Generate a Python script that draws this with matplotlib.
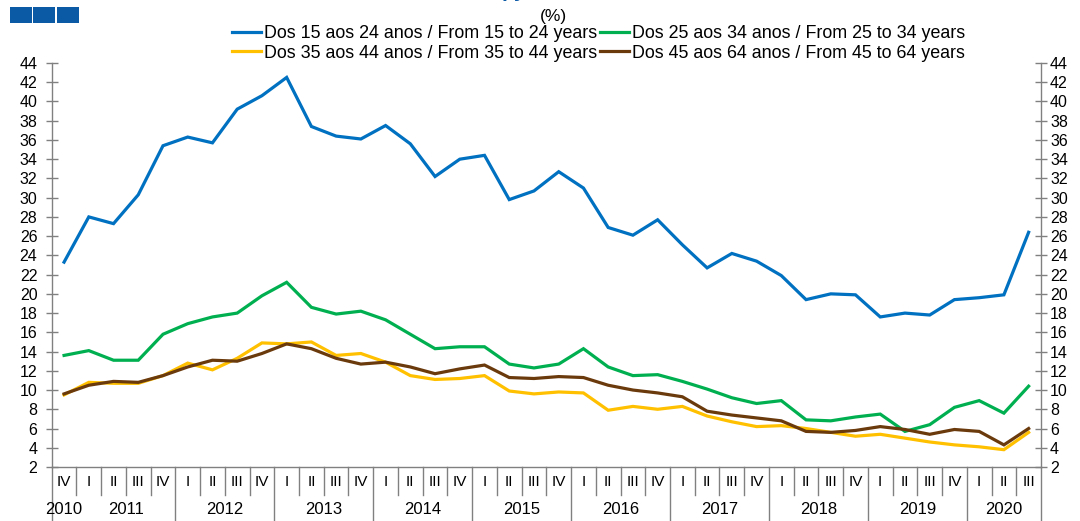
import matplotlib
matplotlib.use("Agg")
import matplotlib.pyplot as plt
from matplotlib.transforms import blended_transform_factory
from matplotlib.patches import Rectangle

plt.rcParams['font.family'] = ['Liberation Sans', 'DejaVu Sans']

# ---- data ----
quarters = ["IV"] + ["I", "II", "III", "IV"] * 9 + ["I", "II", "III"]
years = ["2010", "2011", "2012", "2013", "2014", "2015", "2016", "2017", "2018", "2019", "2020"]
year_counts = [1, 4, 4, 4, 4, 4, 4, 4, 4, 4, 3]

age_15_24 = [23.3, 28.0, 27.3, 30.3, 35.4, 36.3, 35.7, 39.2, 40.6, 42.5,
             37.4, 36.4, 36.1, 37.5, 35.6, 32.2, 34.0, 34.4, 29.8, 30.7,
             32.7, 31.0, 26.9, 26.1, 27.7, 25.1, 22.7, 24.2, 23.4, 21.9,
             19.4, 20.0, 19.9, 17.6, 18.0, 17.8, 19.4, 19.6, 19.9, 26.4]
age_25_34 = [13.6, 14.1, 13.1, 13.1, 15.8, 16.9, 17.6, 18.0, 19.8, 21.2,
             18.6, 17.9, 18.2, 17.3, 15.8, 14.3, 14.5, 14.5, 12.7, 12.3,
             12.7, 14.3, 12.4, 11.5, 11.6, 10.9, 10.1, 9.2, 8.6, 8.9,
             6.9, 6.8, 7.2, 7.5, 5.7, 6.4, 8.2, 8.9, 7.6, 10.4]
age_35_44 = [9.5, 10.8, 10.7, 10.7, 11.5, 12.8, 12.1, 13.3, 14.9, 14.8,
             15.0, 13.6, 13.8, 12.9, 11.5, 11.1, 11.2, 11.5, 9.9, 9.6,
             9.8, 9.7, 7.9, 8.3, 8.0, 8.3, 7.3, 6.7, 6.2, 6.3,
             6.0, 5.6, 5.2, 5.4, 5.0, 4.6, 4.3, 4.1, 3.8, 5.6]
age_45_64 = [9.6, 10.5, 10.9, 10.8, 11.5, 12.4, 13.1, 13.0, 13.8, 14.8,
             14.3, 13.3, 12.7, 12.9, 12.4, 11.7, 12.2, 12.6, 11.3, 11.2,
             11.4, 11.3, 10.5, 10.0, 9.7, 9.3, 7.8, 7.4, 7.1, 6.8,
             5.7, 5.6, 5.8, 6.2, 5.9, 5.4, 5.9, 5.7, 4.3, 6.0]

labels = ["Dos 15 aos 24 anos / From 15 to 24 years",
          "Dos 25 aos 34 anos / From 25 to 34 years",
          "Dos 35 aos 44 anos / From 35 to 44 years",
          "Dos 45 aos 64 anos / From 45 to 64 years"]
colors = ["#0070C0", "#00B050", "#FFC000", "#6B3A0C"]

# ---- figure ----
W, H = 1080, 521
fig = plt.figure(figsize=(W / 100, H / 100), dpi=100)
ax_l, ax_r, ax_t, ax_b = 51.7, 1041, 63, 467
ax = fig.add_axes([ax_l / W, 1 - ax_b / H, (ax_r - ax_l) / W, (ax_b - ax_t) / H])

x = list(range(len(quarters)))
series = [age_15_24, age_25_34, age_35_44, age_45_64]
handles = []
for s, c, lab in zip(series, colors, labels):
    h, = ax.plot(x, s, color=c, lw=2.3, label=lab, solid_joinstyle='miter')
    handles.append(h)

ax.set_xlim(-0.5, len(quarters) - 0.5)
ax.set_ylim(2, 44)
yt = list(range(2, 45, 2))
ax.set_yticks(yt)
ax.set_xticks([])
spine_c = "#808080"
for sp in ["left", "right", "bottom"]:
    ax.spines[sp].set_color(spine_c)
    ax.spines[sp].set_linewidth(1.0)
ax.spines["top"].set_visible(False)
tick_fs = 11.5
ax.tick_params(axis='y', direction='inout', length=8.5, width=1.0, color=spine_c,
               labelsize=tick_fs, pad=6.0, left=True, right=True,
               labelleft=True, labelright=False, labelcolor='#000000')
axr = ax.twinx()
axr.set_ylim(2, 44)
axr.set_yticks(yt)
for sp in ["left", "right", "bottom", "top"]:
    axr.spines[sp].set_visible(False)
axr.tick_params(axis='y', direction='inout', length=8.5, width=1.0, color=spine_c,
                labelsize=tick_fs, pad=2.2, labelcolor='#000000')

# ---- category axis ----
tr = blended_transform_factory(ax.transData, ax.transAxes)
ah = ax_b - ax_t
q_bot = -(495 - ax_b) / ah
y_bot = -(530 - ax_b) / ah
for i, q in enumerate(quarters):
    ax.text(i, -(482 - ax_b) / ah, q, transform=tr, ha='center', va='center', fontsize=11)
boundaries = []
pos = 0
for cnt in year_counts:
    pos += cnt
    boundaries.append(pos)
year_starts = [0] + boundaries[:-1]
long_seps = set(b for b in boundaries[1:-1])
for k in range(1, len(quarters)):
    bottom = y_bot if k in long_seps else q_bot
    ax.plot([k - 0.5, k - 0.5], [0, bottom], transform=tr, color=spine_c, lw=1.0, clip_on=False)
for xe in [-0.5, len(quarters) - 0.5]:
    ax.plot([xe, xe], [0, y_bot], transform=tr, color=spine_c, lw=1.0, clip_on=False)
for yr, st, cnt in zip(years, year_starts, year_counts):
    ax.text(st + (cnt - 1) / 2, -(509 - ax_b) / ah, yr, transform=tr, ha='center', va='center', fontsize=12)

# ---- header ----
fig.legend(handles=[handles[0], handles[2], handles[1], handles[3]],
           labels=[labels[0], labels[2], labels[1], labels[3]],
           ncol=2, loc='upper left', bbox_to_anchor=(232 / W, 1 - 25.5 / H),
           frameon=False, borderaxespad=0, borderpad=0, fontsize=12.9,
           handlelength=1.6, handletextpad=0.17, columnspacing=0.2, labelspacing=0.12)
fig.text(553 / W, 1 - 17 / H, "(%)", ha='center', va='center', fontsize=12.5)
fig.text(514 / W, 1 + 3 / H, "py", ha='center', va='baseline', fontsize=15,
         fontweight='bold', color='#0B5AA6')
for i in range(3):
    fig.add_artist(Rectangle(((9.5 + i * 23.8) / W, 1 - 22.5 / H), 22 / W, 15.5 / H,
                             transform=fig.transFigure, color='#0B5AA6', lw=0))

fig.savefig("out.png", dpi=100)
